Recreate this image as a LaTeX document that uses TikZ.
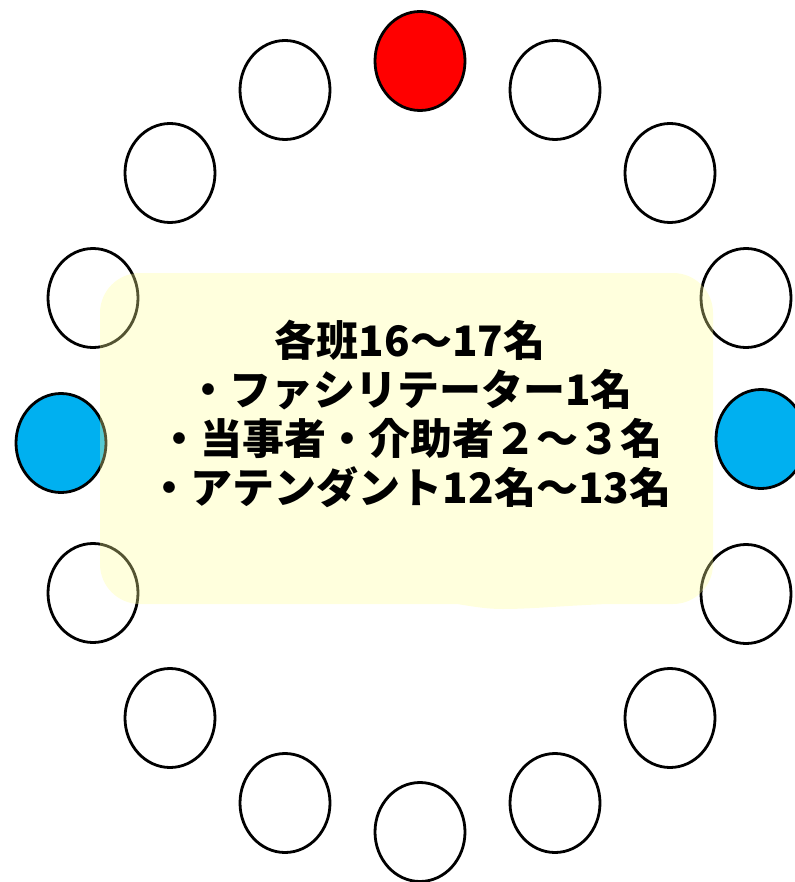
\documentclass[tikz,border=0pt]{standalone}
\usepackage{fontspec}
\newfontfamily\jpfont{Noto Sans CJK JP}
\usetikzlibrary{shapes.geometric}
\definecolor{seatred}{HTML}{FF0000}
\definecolor{seatblue}{HTML}{00B0F0}
\definecolor{notefill}{HTML}{FFFF99}
\tikzset{
  seat/.style={ellipse, draw=black, line width=2.8pt, fill=white, minimum width=90pt, minimum height=99pt, inner sep=0pt},
  facil/.style={seat, fill=seatred},
  party/.style={seat, fill=seatblue},
  notebg/.style={fill=notefill, fill opacity=0.33, draw=none},
  info/.style={align=center, font=\jpfont\bfseries\fontsize{42}{49}\selectfont, inner sep=0pt}
}
\begin{document}
\begin{tikzpicture}[x=1pt,y=-1pt]
\useasboundingbox (0,0) rectangle (794,882);
% seats
\node[facil] (s0) at (420,61) {};
\node[seat] (s1) at (285,90) {};
\node[seat] (s2) at (555,90) {};
\node[seat] (s3) at (170,173) {};
\node[seat] (s4) at (670,173) {};
\node[seat] (s5) at (93,298) {};
\node[seat] (s6) at (746,298) {};
\node[party] (s7) at (61,443) {};
\node[party] (s8) at (761,439) {};
\node[seat] (s9) at (93,593) {};
\node[seat] (s10) at (746,594) {};
\node[seat] (s11) at (170,718) {};
\node[seat] (s12) at (670,718) {};
\node[seat] (s13) at (285,803) {};
\node[seat] (s14) at (555,803) {};
\node[seat] (s15) at (420,832) {};
% translucent note area
\fill[notebg] (140,273) -- (673,273) arc[start angle=-90, end angle=0, radius=40]
  -- (713,564) arc[start angle=0, end angle=90, radius=40]
  -- (607,604) .. controls (560,606) and (530,609) .. (503,609)
  .. controls (485,609) and (470,606) .. (457,604)
  -- (140,604) arc[start angle=90, end angle=180, radius=40]
  -- (100,313) arc[start angle=180, end angle=270, radius=40] -- cycle;
\node[info] (txt) at (410,414) {各班16～17名\\・ファシリテーター1名\\・当事者・介助者２～３名\\・アテンダント12名～13名};
\end{tikzpicture}
\end{document}
